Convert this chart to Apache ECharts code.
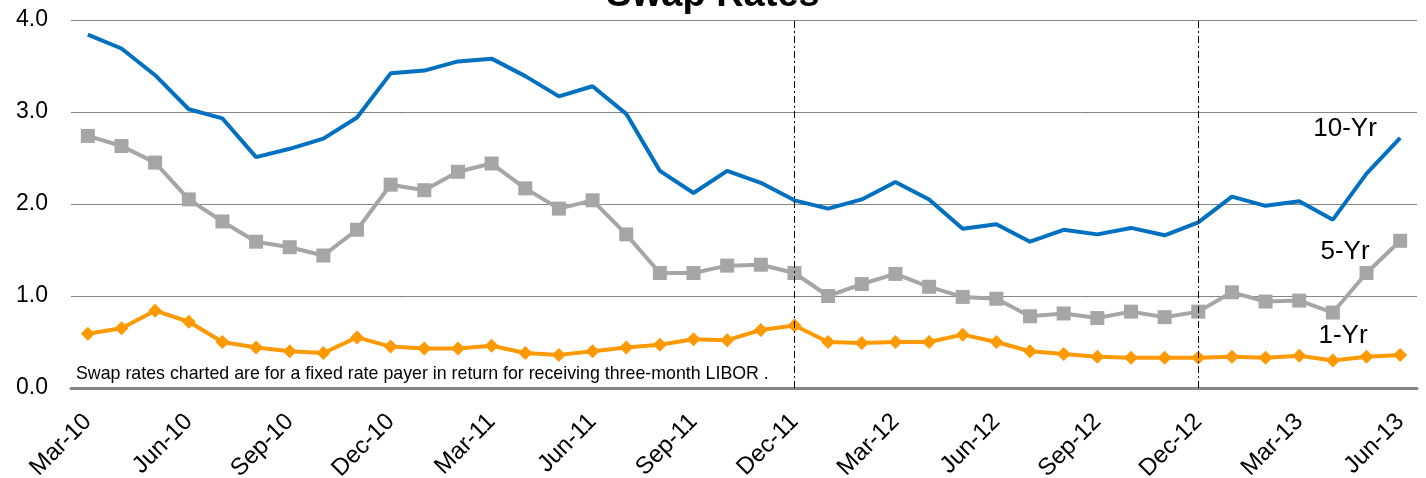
<!DOCTYPE html>
<html>
<head>
<meta charset="utf-8">
<title>Swap Rates</title>
<script src="https://cdn.jsdelivr.net/npm/echarts@6/dist/echarts.min.js"></script>
<style>
  html, body { margin: 0; padding: 0; background: #fff; }
  #chart { width: 1426px; height: 478px; }
</style>
</head>
<body>
<div id="chart"></div>
<script>
// monthly observations, Mar-10 .. Jun-13
var months = [
  'Mar-10', 'Apr-10', 'May-10', 'Jun-10', 'Jul-10', 'Aug-10', 'Sep-10', 'Oct-10', 'Nov-10', 'Dec-10',
  'Jan-11', 'Feb-11', 'Mar-11', 'Apr-11', 'May-11', 'Jun-11', 'Jul-11', 'Aug-11', 'Sep-11', 'Oct-11',
  'Nov-11', 'Dec-11', 'Jan-12', 'Feb-12', 'Mar-12', 'Apr-12', 'May-12', 'Jun-12', 'Jul-12', 'Aug-12',
  'Sep-12', 'Oct-12', 'Nov-12', 'Dec-12', 'Jan-13', 'Feb-13', 'Mar-13', 'Apr-13', 'May-13', 'Jun-13'
];

var tenYr = [
  3.84, 3.69, 3.40, 3.03, 2.93, 2.51, 2.60, 2.71, 2.94, 3.42,
  3.45, 3.55, 3.58, 3.39, 3.17, 3.28, 2.98, 2.36, 2.12, 2.36,
  2.23, 2.04, 1.95, 2.05, 2.24, 2.05, 1.73, 1.78, 1.59, 1.72,
  1.67, 1.74, 1.66, 1.80, 2.08, 1.98, 2.03, 1.83, 2.33, 2.72
];

var fiveYr = [
  2.74, 2.63, 2.45, 2.05, 1.81, 1.59, 1.53, 1.44, 1.72, 2.21,
  2.15, 2.35, 2.44, 2.17, 1.95, 2.04, 1.67, 1.25, 1.25, 1.33,
  1.34, 1.25, 1.00, 1.13, 1.24, 1.10, 0.99, 0.97, 0.78, 0.81,
  0.76, 0.83, 0.77, 0.83, 1.04, 0.94, 0.95, 0.82, 1.25, 1.60
];

var oneYr = [
  0.59, 0.65, 0.84, 0.72, 0.50, 0.44, 0.40, 0.38, 0.55, 0.45,
  0.43, 0.43, 0.46, 0.38, 0.36, 0.40, 0.44, 0.47, 0.53, 0.52,
  0.63, 0.68, 0.50, 0.49, 0.50, 0.50, 0.58, 0.50, 0.40, 0.37,
  0.34, 0.33, 0.33, 0.33, 0.34, 0.33, 0.35, 0.30, 0.34, 0.36
];

var markerMonths = ['Dec-11', 'Dec-12'];
var note = 'Swap rates charted are for a fixed rate payer in return for receiving three-month LIBOR .';

var font = 'Arial, "Liberation Sans", sans-serif';
var chart = echarts.init(document.getElementById('chart'));

chart.setOption({
  animation: false,
  grid: { left: 71, right: 9, top: 20, bottom: 90, outerBoundsMode: 'none' },
  xAxis: {
    type: 'category',
    data: months,
    boundaryGap: true,
    axisLine: { lineStyle: { color: '#868686', width: 3 } },
    axisTick: { show: false },
    axisLabel: {
      interval: 2,
      rotate: 45,
      margin: 30,
      color: '#000',
      fontFamily: font,
      fontSize: 24
    },
    splitLine: { show: false }
  },
  yAxis: {
    type: 'value',
    min: 0,
    max: 4,
    interval: 1,
    axisLine: { show: false },
    axisTick: { show: false },
    axisLabel: {
      margin: 23,
      color: '#000',
      fontFamily: font,
      fontSize: 23,
      formatter: function (v) { return v.toFixed(1); }
    },
    splitLine: { lineStyle: { color: '#868686', width: 1 } }
  },
  series: [
    {
      name: '10-Yr',
      type: 'line',
      data: tenYr,
      symbol: 'none',
      lineStyle: { color: '#0070C0', width: 4 },
      itemStyle: { color: '#0070C0' },
      z: 3,
      markLine: {
        silent: true,
        symbol: 'none',
        label: { show: false },
        lineStyle: { color: '#000', width: 1, type: [7, 3, 2, 3] },
        data: markerMonths.map(function (m) { return { xAxis: m }; })
      }
    },
    {
      name: '5-Yr',
      type: 'line',
      data: fiveYr,
      symbol: 'rect',
      symbolSize: 14,
      showAllSymbol: true,
      lineStyle: { color: '#A6A6A6', width: 4 },
      itemStyle: { color: '#A6A6A6' },
      z: 2
    },
    {
      name: '1-Yr',
      type: 'line',
      data: oneYr,
      symbol: 'diamond',
      symbolSize: 14,
      showAllSymbol: true,
      lineStyle: { color: '#FF9900', width: 4 },
      itemStyle: { color: '#FF9900' },
      z: 2
    }
  ],
  graphic: [
    {
      type: 'text', left: 'center', top: -23,
      style: { text: 'Swap Rates', font: 'bold 38px ' + font, fill: '#000' }
    },
    {
      type: 'text', x: 76, y: 374,
      style: { text: note, font: '17.8px ' + font, fill: '#000', verticalAlign: 'middle' }
    },
    {
      type: 'text', x: 1345, y: 129,
      style: { text: '10-Yr', font: '26px ' + font, fill: '#000', align: 'center', verticalAlign: 'middle' }
    },
    {
      type: 'text', x: 1345, y: 252,
      style: { text: '5-Yr', font: '26px ' + font, fill: '#000', align: 'center', verticalAlign: 'middle' }
    },
    {
      type: 'text', x: 1343, y: 336,
      style: { text: '1-Yr', font: '26px ' + font, fill: '#000', align: 'center', verticalAlign: 'middle' }
    }
  ]
});
</script>
</body>
</html>
